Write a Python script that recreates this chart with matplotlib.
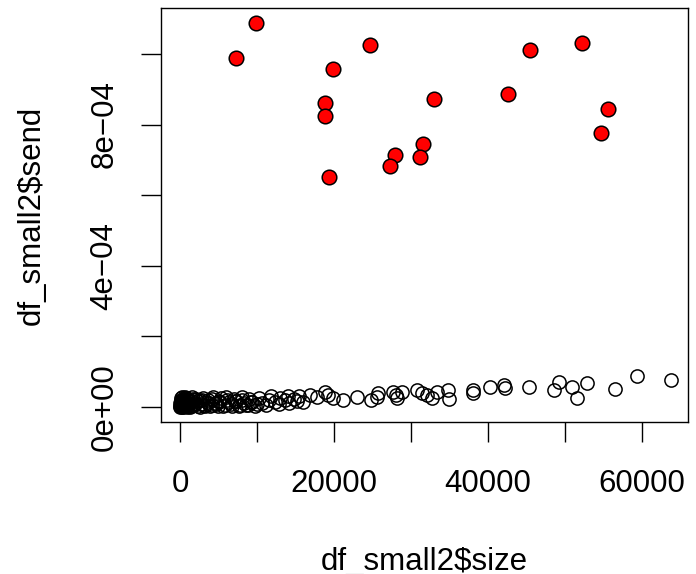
import matplotlib.pyplot as plt
import numpy as np

plt.rcParams['font.family'] = ['Liberation Sans', 'DejaVu Sans']

# red (high send) points
red_size = [9831, 7312, 24714, 19909, 18831, 18831, 33026, 45455, 52208,
            42636, 55584, 54636, 31558, 31169, 27922, 27273, 19390]
red_send = [1.0887e-3, 0.9895e-3, 1.0255e-3, 0.9575e-3, 0.862e-3, 0.824e-3,
            0.8725e-3, 1.0105e-3, 1.031e-3, 0.886e-3, 0.844e-3, 0.7753e-3,
            0.744e-3, 0.709e-3, 0.714e-3, 0.6836e-3, 0.6525e-3]

# hollow points: dense cluster near zero plus the tail
small_size = [50, 80, 120, 150, 200, 250, 300, 350, 400, 550, 600, 700, 800,
              900, 1000, 1100, 1200, 1300, 1500, 1600, 1800, 2000, 2100, 2400,
              2500, 2700, 3000, 3300, 3500, 3700, 4100, 4300, 4500, 4900, 5000,
              5300, 5800, 6000, 6300, 6800, 7000, 7300, 7800, 8000, 8300, 8800,
              9000, 9400, 10000, 10300, 10600, 11200, 11500, 11800, 12400,
              12800, 13000, 13600, 14000, 14200, 14800, 15200, 15400, 16000,
              30, 60, 100, 180, 220, 280, 330, 380, 450, 500, 650, 750, 850,
              950, 1050, 1400, 1700, 1900, 2200, 2600, 2900, 3200, 3600, 3900,
              4200, 4700, 5100, 5600, 6100, 6600, 7100, 7600, 8100, 8600, 9200,
              9700,
              16883, 17753, 18831, 19260, 19870, 21169,
              23026, 24766, 25753, 25545, 27701, 28143, 28792, 28052, 30740,
              31390, 32039, 32688, 33338, 34844, 34974, 38013, 38013, 40260,
              42078, 42208, 45364, 48571, 49260, 50870, 51519, 52818, 56494,
              59312, 63727]
small_send = [0.2e-5, 2.5e-5, 0.5e-5, 1.5e-5, 0.1e-5, 2.8e-5, 1.0e-5, 0.3e-5,
              2.0e-5, 0.6e-5, 1.8e-5, 0.2e-5, 2.6e-5, 1.2e-5, 0.4e-5, 2.2e-5,
              0.8e-5, 0.1e-5, 1.6e-5, 2.7e-5, 0.5e-5, 1.1e-5, 2.4e-5, 0.3e-5,
              1.9e-5, 0.9e-5, 2.6e-5, 0.2e-5, 1.4e-5, 2.1e-5, 0.6e-5, 2.8e-5,
              1.0e-5, 0.3e-5, 1.7e-5, 2.5e-5, 0.7e-5, 2.9e-5, 1.3e-5, 0.4e-5,
              2.2e-5, 1.8e-5, 0.6e-5, 2.7e-5, 1.1e-5, 0.5e-5, 2.3e-5, 1.5e-5,
              0.9e-5, 2.6e-5, 1.2e-5, 0.7e-5, 2.1e-5, 3.0e-5, 1.4e-5, 0.8e-5,
              2.5e-5, 1.9e-5, 3.1e-5, 1.0e-5, 2.4e-5, 1.6e-5, 3.2e-5, 1.3e-5,
              0.0e-5, 1.2e-5, 0.7e-5, 2.0e-5, 0.4e-5, 1.3e-5, 2.4e-5, 0.1e-5,
              1.7e-5, 0.9e-5, 2.9e-5, 1.4e-5, 0.0e-5, 1.9e-5, 0.6e-5, 0.2e-5,
              2.3e-5, 0.8e-5, 1.6e-5, 0.1e-5, 2.0e-5, 0.6e-5, 1.2e-5, 0.2e-5,
              2.4e-5, 0.9e-5, 1.5e-5, 0.3e-5, 2.1e-5, 0.8e-5, 1.6e-5, 0.2e-5,
              1.9e-5, 0.7e-5, 1.4e-5, 0.4e-5,
              3.4e-5, 2.92e-5, 4.33e-5, 3.4e-5, 2.55e-5, 1.98e-5,
              2.75e-5, 1.98e-5, 3.88e-5, 2.92e-5, 4.33e-5, 2.46e-5, 4.33e-5,
              3.4e-5, 4.82e-5, 3.88e-5, 3.4e-5, 2.46e-5, 4.33e-5, 4.82e-5,
              2.18e-5, 4.82e-5, 3.88e-5, 5.75e-5, 6.23e-5, 5.3e-5, 5.75e-5,
              4.82e-5, 7.17e-5, 5.75e-5, 2.46e-5, 6.71e-5, 5.01e-5, 8.78e-5,
              7.65e-5]

x_ticks = [0, 10000, 20000, 30000, 40000, 50000, 60000]
x_labels = ['0', '', '20000', '', '40000', '', '60000']
y_ticks = [0, 2e-4, 4e-4, 6e-4, 8e-4, 1e-3]
y_labels = ['0e+00', '', '4e\u221204', '', '8e\u221204', '']

fig = plt.figure(figsize=(6.96, 5.74), dpi=100)
ax = fig.add_axes([161 / 696, 1 - 422 / 574, 527 / 696, 414 / 574])

ax.plot(small_size, small_send, 'o', markersize=9.5, markerfacecolor='none',
        markeredgecolor='black', markeredgewidth=1.1)
ax.plot(red_size, red_send, 'o', markersize=10.5, markerfacecolor='red',
        markeredgecolor='black', markeredgewidth=1.1)

ax.set_xlim(-2468, 65974)
ax.set_ylim(-0.0425e-3, 1.130e-3)
ax.set_xticks(x_ticks)
ax.set_xticklabels(x_labels, fontsize=22.5)
ax.set_yticks(y_ticks)
ax.set_yticklabels(y_labels, fontsize=22.5, rotation=90, va='center')
ax.tick_params(direction='out', length=14.5, width=1.0)
ax.tick_params(axis='x', pad=19)
ax.tick_params(axis='y', pad=15.5)
ax.set_xlabel('df_small2$size', fontsize=22.5, labelpad=35)
ax.set_ylabel('df_small2$send', fontsize=22.5, labelpad=31)
for s in ax.spines.values():
    s.set_linewidth(1.0)

plt.savefig('out.png', dpi=100)
